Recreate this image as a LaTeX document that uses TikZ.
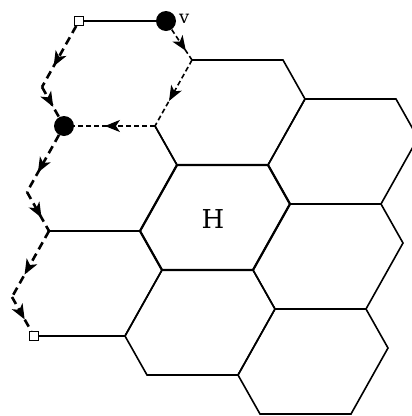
\documentclass[tikz,border=0pt]{standalone}
\usepackage{fontspec}
\setmainfont{DejaVu Serif}
\usetikzlibrary{arrows.meta,decorations.markings}
\begin{document}
\begin{tikzpicture}[x=1pt,y=-1pt,
  hexline/.style={line width=1.6pt, line join=miter},
  hline/.style={line width=2.2pt, line join=miter},
  midarrow/.style={postaction={decorate}, decoration={markings,
      mark=at position #1 with {\arrow{Stealth[length=15pt,width=12pt,inset=4pt]}}}},
  thinchain/.style={line width=1.6pt, dash pattern=on 5pt off 3pt, midarrow=#1},
  thinchain/.default=0.62,
  thickchain/.style={line width=2.6pt, dash pattern=on 8pt off 5pt, midarrow=#1},
  thickchain/.default=0.66,
  bigdot/.style={circle, fill=black, inner sep=0pt, minimum size=20pt},
  endsq/.style={rectangle, draw=black, fill=white, line width=1pt, inner sep=0pt, minimum size=9pt}]
\useasboundingbox (0,0) rectangle (412,416);
\clip (0,0) rectangle (412,416);
% hexagon vertices: A is top-left corner
\foreach \n/\x/\y in {TL/79/21, LM/64/126, LB/49/231, U/192/60, H/177/165,
                      BH/162/270, UR/305/99, HR/290/204, BHR/275/309}{
  \coordinate (\n A) at (\x,\y);
  \coordinate (\n B) at (\x+91,\y);
  \coordinate (\n C) at (\x+113,\y+39);
  \coordinate (\n D) at (\x+76,\y+105);
  \coordinate (\n E) at (\x-15,\y+105);
  \coordinate (\n F) at (\x-37,\y+66);
}
% solid hexagons
\foreach \n in {UR,HR,BH,BHR}{
  \draw[hexline] (\n A) -- (\n B) -- (\n C) -- (\n D) -- (\n E) -- (\n F) -- cycle;
}
\draw[hexline] (UA) -- (UB) -- (UC) -- (UD) -- (UE) -- (UF);
\draw[hexline] (LMB) -- (LMC) -- (LMD) -- (LME);
\draw[hexline] (LBA) -- (LBB) -- (LBC) -- (LBD) -- (LBE);
\draw[hline] (HA) -- (HB) -- (HC) -- (HD) -- (HE) -- (HF) -- cycle;
\node[font=\fontsize{26}{26}\selectfont] (hlabel) at (213,219) {H};
% special nodes
\node[bigdot] (v) at (166,21) {};
\node[bigdot] (w) at (TLE) {};
\node[endsq] (s1) at (TLA) {};
\node[endsq] (s2) at (LBE) {};
\node[font=\fontsize{18}{18}\selectfont, anchor=west, inner sep=0pt] (vlabel) at (179,19) {v};
\draw[line width=1.6pt] (s1) -- (v);
% thin chain
\draw[thinchain=0.7] (v) -- (TLC);
\draw[thinchain] (TLC) -- (TLD);
\draw[thinchain] (TLD) -- (w);
% thick chain
\draw[thickchain] (s1) -- (TLF);
\draw[thickchain] (TLF) -- (w);
\draw[thickchain] (w) -- (LMF);
\draw[thickchain] (LMF) -- (LBA);
\draw[thickchain] (LBA) -- (LBF);
\draw[thickchain] (LBF) -- (s2);
\end{tikzpicture}
\end{document}
